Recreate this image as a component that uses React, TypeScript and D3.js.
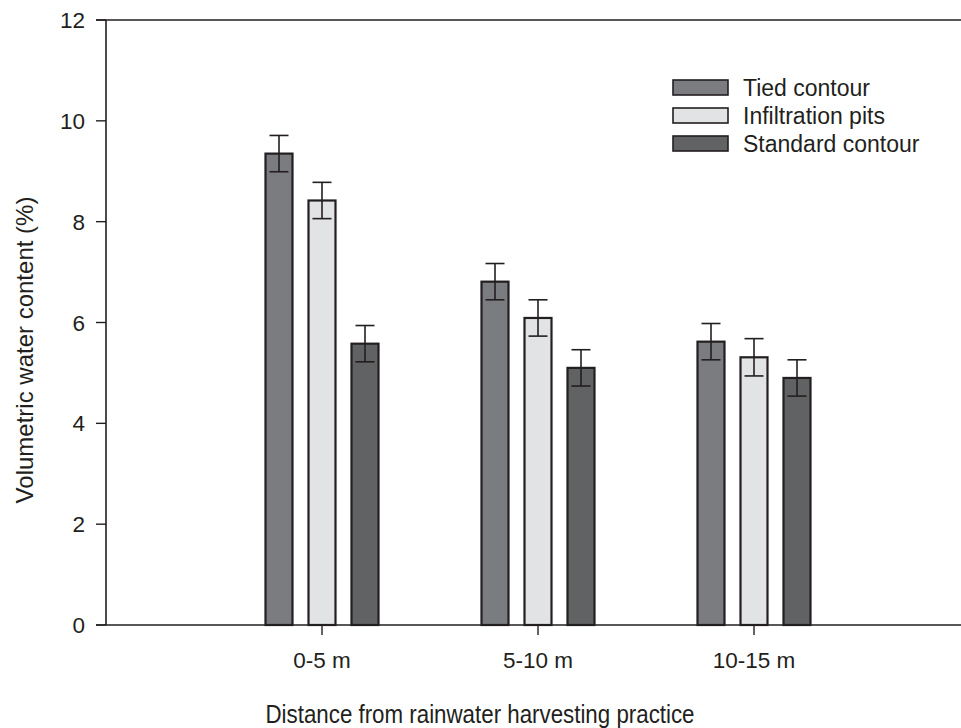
import React from "react";
import * as d3 from "d3";

const categories = ["0-5 m", "5-10 m", "10-15 m"];
const series = ["Tied contour", "Infiltration pits", "Standard contour"];
const tied = [9.35, 6.81, 5.62];
const infiltration = [8.42, 6.09, 5.31];
const standard = [5.58, 5.1, 4.9];
const tiedErr = [0.36, 0.36, 0.36];
const infiltrationErr = [0.36, 0.36, 0.37];
const standardErr = [0.36, 0.36, 0.36];
const yTicks = [0, 2, 4, 6, 8, 10, 12];
const colors = ["#7b7c7f", "#e2e3e5", "#616264"];

const W = 961;
const H = 728;
const left = 106;
const top = 20;
const bottom = 625;

export default function App() {
  const values = [tied, infiltration, standard];
  const errs = [tiedErr, infiltrationErr, standardErr];
  const y = d3.scaleLinear().domain([0, 12]).range([bottom, top]);
  const x = d3.scaleLinear().domain([0, 4]).range([left, 970]);
  const inner = d3
    .scaleBand<string>()
    .domain(series)
    .range([-64.5, 64.5])
    .paddingInner(16 / 43)
    .paddingOuter(8 / 43);
  const bw = inner.bandwidth();
  const font = "Arial, 'Liberation Sans', sans-serif";
  const stroke = "#231f20";

  return (
    <svg
      width={W}
      height={H}
      style={{ position: "absolute", left: 0, top: 0, background: "#fff" }}
      fontFamily={font}
    >
      {/* bars */}
      {categories.map((c, ci) =>
        series.map((s, si) => {
          const v = values[si][ci];
          const e = errs[si][ci];
          const cx = x(ci + 1) + (inner(s) as number);
          const mid = cx + bw / 2;
          return (
            <g key={c + s}>
              <rect
                x={cx}
                y={y(v)}
                width={bw}
                height={y(0) - y(v)}
                fill={colors[si]}
                stroke={stroke}
                strokeWidth={2.2}
              />
              <line x1={mid} x2={mid} y1={y(v + e)} y2={y(v - e)} stroke={stroke} strokeWidth={1.6} />
              <line x1={mid - 9.5} x2={mid + 9.5} y1={y(v + e)} y2={y(v + e)} stroke={stroke} strokeWidth={1.6} />
              <line x1={mid - 9.5} x2={mid + 9.5} y1={y(v - e)} y2={y(v - e)} stroke={stroke} strokeWidth={1.6} />
            </g>
          );
        })
      )}
      {/* axes */}
      <line x1={left} x2={left} y1={top} y2={bottom} stroke={stroke} strokeWidth={1.6} />
      <line x1={96} x2={W} y1={top} y2={top} stroke={stroke} strokeWidth={1.6} />
      <line x1={96} x2={W} y1={bottom} y2={bottom} stroke={stroke} strokeWidth={1.6} />
      {yTicks.map((t) => (
        <g key={t}>
          <line x1={96} x2={left} y1={y(t)} y2={y(t)} stroke={stroke} strokeWidth={1.4} />
          <text x={85} y={y(t)} dy="0.36em" textAnchor="end" fontSize={22.5} fill="#231f20">
            {t}
          </text>
        </g>
      ))}
      {categories.map((c, ci) => (
        <g key={c}>
          <line x1={x(ci + 1)} x2={x(ci + 1)} y1={bottom} y2={bottom + 10} stroke={stroke} strokeWidth={1.4} />
          <text x={x(ci + 1)} y={668} textAnchor="middle" fontSize={22.5} fill="#231f20">
            {c}
          </text>
        </g>
      ))}
      <text
        transform={`translate(33, 350) rotate(-90)`}
        textAnchor="middle"
        fontSize={24}
        fill="#231f20"
      >
        Volumetric water content (%)
      </text>
      <text
        x={480}
        y={723}
        textAnchor="middle"
        fontSize={26}
        textLength={429}
        lengthAdjust="spacingAndGlyphs"
        fill="#231f20"
      >
        Distance from rainwater harvesting practice
      </text>
      {/* legend */}
      {series.map((s, si) => (
        <g key={s} transform={`translate(673, ${80 + si * 28})`}>
          <rect x={0} y={0} width={55} height={15} fill={colors[si]} stroke={stroke} strokeWidth={1.6} />
          <text x={70} y={7.5} dy="0.36em" fontSize={23} fill="#231f20">
            {s}
          </text>
        </g>
      ))}
    </svg>
  );
}
